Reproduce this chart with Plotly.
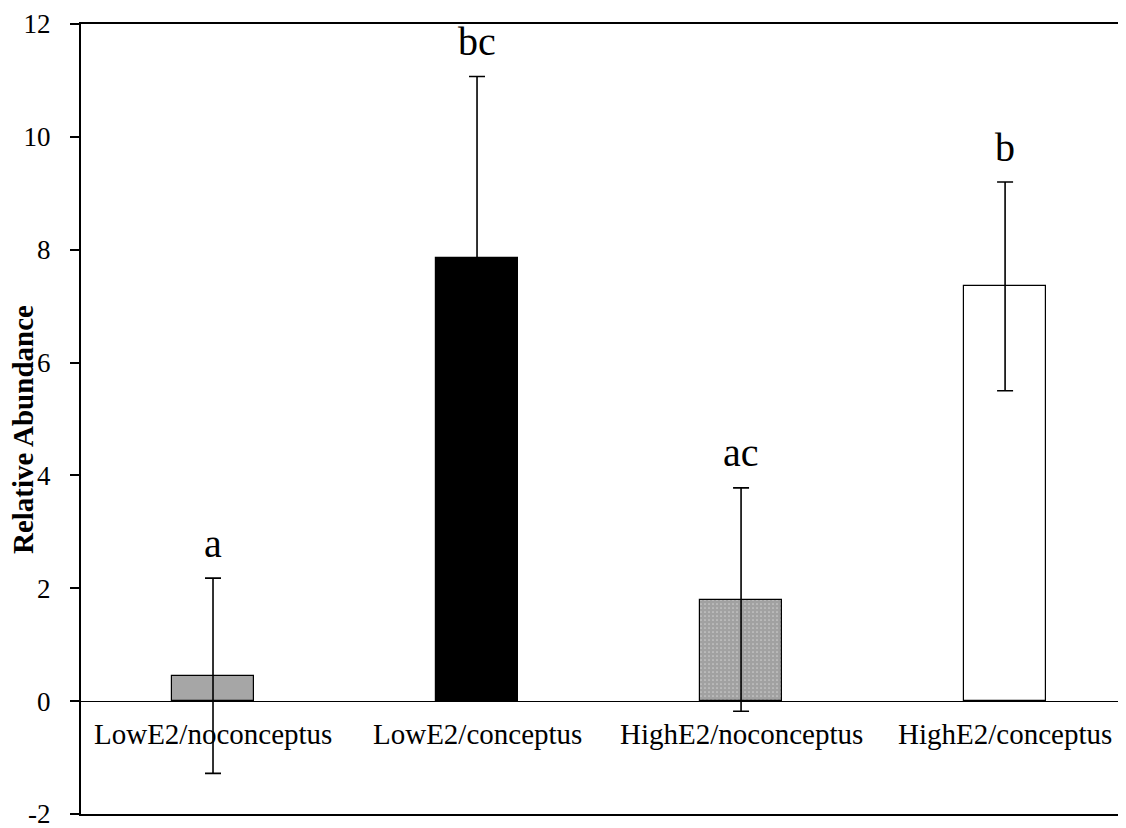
import plotly.graph_objects as go

categories = ["LowE2/noconceptus", "LowE2/conceptus", "HighE2/noconceptus", "HighE2/conceptus"]
means = [0.45, 7.85, 1.80, 7.35]
errors = [1.73, 3.22, 1.98, 1.85]
letters = ["a", "bc", "ac", "b"]
y_ticks = [-2, 0, 2, 4, 6, 8, 10, 12]
y_tick_labels = ["-2", "0", "2", "4", "6", "8", "10", "12"]

FONT = "Liberation Serif, Times New Roman, serif"
fills = ["#a6a6a6", "#000000", "#ffffff", "#ffffff"]
patterns = ["", "", ".", ""]

fig = go.Figure()
fig.add_trace(go.Bar(
    x=list(range(len(categories))), y=means, width=0.31,
    marker=dict(color=fills, line=dict(color="black", width=1.2),
                pattern=dict(shape=patterns, size=4, solidity=0.85,
                             fgcolor="black", bgcolor="white")),
    error_y=dict(type="data", array=errors, visible=True,
                 color="black", thickness=1.6, width=8),
    showlegend=False,
))

for i, (lab, m, e) in enumerate(zip(letters, means, errors)):
    fig.add_annotation(x=i, y=m + e, text=lab, showarrow=False,
                       yanchor="middle", yshift=35,
                       font=dict(family=FONT, size=40, color="black"))

for i, c in enumerate(categories):
    fig.add_annotation(x=i, y=0, text=c, showarrow=False,
                       yanchor="middle", yshift=-33,
                       font=dict(family=FONT, size=29, color="black"))

fig.add_annotation(xref="paper", yref="paper", x=0, y=0.486, xshift=-58,
                   text="<b>Relative Abundance</b>", textangle=-90, showarrow=False,
                   xanchor="center", yanchor="middle",
                   font=dict(family=FONT, size=29, color="black"))

# the page body adds an 8px offset, so the figure is 8px smaller than the window
fig.update_layout(
    width=1118, height=820,
    margin=dict(l=73, r=0, t=16, b=14),
    paper_bgcolor="white", plot_bgcolor="white",
    bargap=0,
    xaxis=dict(range=[-0.5, 3.458], showticklabels=False, ticks="",
               showgrid=False, zeroline=False, automargin=False,
               showline=True, linecolor="black", linewidth=1.5, mirror=True),
    yaxis=dict(range=[-2, 12], tickvals=y_ticks, ticktext=y_tick_labels,
               ticks="outside", ticklen=9,
               tickwidth=1.5, tickcolor="black", ticklabelstandoff=14,
               automargin=False, ticklabeloverflow="allow",
               showgrid=False, zeroline=True, zerolinecolor="black", zerolinewidth=1.2,
               showline=True, linecolor="black", linewidth=2.2,
               tickfont=dict(family=FONT, size=27, color="black")),
)

fig.write_html("out.html")
